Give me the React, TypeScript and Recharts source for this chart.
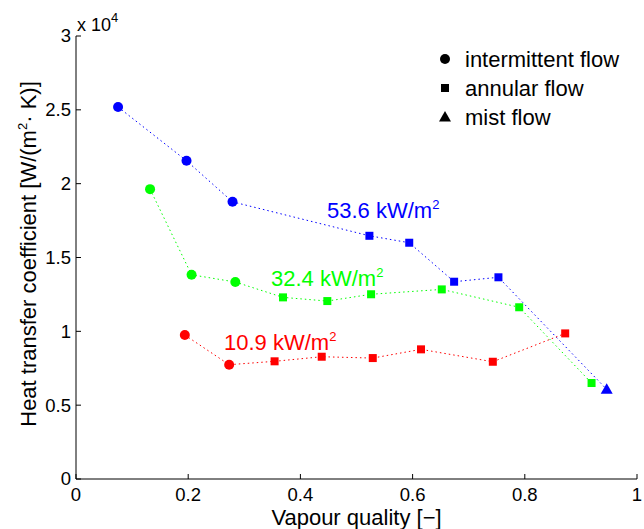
import React from 'react';
import { LineChart, Line, XAxis, YAxis, Customized } from 'recharts';

// vapour quality [-] and heat transfer coefficient [W/(m2 K)] per heat flux
const q536 = [0.075, 0.197, 0.279, 0.523, 0.594, 0.674, 0.753, 0.946];
const h536 = [25190, 21550, 18770, 16470, 16000, 13360, 13660, 6070];
const flow536 = ['i', 'i', 'i', 'a', 'a', 'a', 'a', 'm'];

const q324 = [0.132, 0.206, 0.284, 0.369, 0.448, 0.526, 0.652, 0.79, 0.919];
const h324 = [19630, 13830, 13340, 12300, 12050, 12510, 12840, 11630, 6500];
const flow324 = ['i', 'i', 'i', 'a', 'a', 'a', 'a', 'a', 'a'];

const q109 = [0.194, 0.273, 0.354, 0.438, 0.529, 0.615, 0.743, 0.872];
const h109 = [9750, 7740, 7970, 8280, 8190, 8780, 7940, 9860];
const flow109 = ['i', 'i', 'a', 'a', 'a', 'a', 'a', 'a'];

const xTicks = [0, 0.2, 0.4, 0.6, 0.8, 1];
const yTicks = [0, 5000, 10000, 15000, 20000, 25000, 30000];

const flowNames = [
  { key: 'i', label: 'intermittent flow' },
  { key: 'a', label: 'annular flow' },
  { key: 'm', label: 'mist flow' },
];

const FONT = '"Liberation Sans", Arial, Helvetica, sans-serif';

const toRows = (q: number[], h: number[], f: string[]) =>
  q.map((x, i) => ({ q: x, h: h[i], flow: f[i] }));

const data536 = toRows(q536, h536, flow536);
const data324 = toRows(q324, h324, flow324);
const data109 = toRows(q109, h109, flow109);

function Marker({ cx, cy, kind, fill }: any) {
  if (cx == null || cy == null) return null;
  if (kind === 'i') return <circle cx={cx} cy={cy} r={5} fill={fill} />;
  if (kind === 'a') return <rect x={cx - 4} y={cy - 4} width={8} height={8} fill={fill} />;
  return <polygon points={`${cx},${cy - 6} ${cx - 6},${cy + 4.5} ${cx + 6},${cy + 4.5}`} fill={fill} />;
}

const dotFor = (color: string) => (props: any) => (
  <Marker key={`d-${props.index}`} cx={props.cx} cy={props.cy} kind={props.payload.flow} fill={color} />
);

function BottomTick({ x, y, payload }: any) {
  return (
    <g>
      <line x1={x} x2={x} y1={y} y2={y - 5} stroke="#000" />
      <text x={x} y={y + 22} textAnchor="middle" fontSize={18.5} fontFamily={FONT} fill="#000">
        {String(payload.value)}
      </text>
    </g>
  );
}

function TopTick({ x, y }: any) {
  return <line x1={x} x2={x} y1={y} y2={y + 5} stroke="#000" />;
}

function LeftTick({ x, y, payload }: any) {
  return (
    <g>
      <line x1={x} x2={x + 5} y1={y} y2={y} stroke="#000" />
      <text x={x - 5} y={y} dy="0.35em" textAnchor="end" fontSize={18.5} fontFamily={FONT} fill="#000">
        {String(payload.value / 10000)}
      </text>
    </g>
  );
}

function RightTick({ x, y }: any) {
  return <line x1={x} x2={x - 5} y1={y} y2={y} stroke="#000" />;
}

function Annotations() {
  const flux = (x: number, y: number, val: string, color: string) => (
    <text x={x} y={y} fontSize={22} fontFamily={FONT} fill={color}>
      {val} kW/m
      <tspan fontSize={13} dy={-9}>2</tspan>
    </text>
  );
  return (
    <g>
      <text x={77} y={31} fontSize={18} fontFamily={FONT} fill="#000">
        x 10<tspan fontSize={13} dy={-9}>4</tspan>
      </text>
      <text
        transform="translate(36,254) rotate(-90)"
        textAnchor="middle"
        fontSize={22}
        fontFamily={FONT}
        fill="#000"
      >
        Heat transfer coefficient [W/(m<tspan fontSize={13} dy={-9}>2</tspan>
        <tspan dy={9}>· K)]</tspan>
      </text>
      {flux(327, 218, '53.6', '#0000ff')}
      {flux(271, 286, '32.4', '#00ff00')}
      {flux(224, 350, '10.9', '#ff0000')}
      {flowNames.map((f, i) => (
        <g key={f.key}>
          <Marker cx={445} cy={59 + i * 29} kind={f.key} fill="#000" />
          <text x={465} y={59 + i * 29} dy="0.35em" fontSize={22} fontFamily={FONT} fill="#000">
            {f.label}
          </text>
        </g>
      ))}
    </g>
  );
}

export default function App() {
  return (
    <div style={{ position: 'fixed', left: 0, top: 0, background: '#fff' }}>
      <LineChart width={644} height={529} margin={{ top: 36, right: 7, bottom: 0, left: 16 }}>
        <XAxis
          dataKey="q"
          type="number"
          domain={[0, 1]}
          ticks={xTicks}
          allowDataOverflow
          height={50}
          tickLine={false}
          tickSize={0}
          tickMargin={0}
          tick={<BottomTick />}
          axisLine={{ stroke: '#000' }}
          label={{ value: 'Vapour quality [−]', position: 'insideBottom', offset: 4, fontSize: 22, fontFamily: FONT, fill: '#000' }}
        />
        <XAxis
          xAxisId="top"
          orientation="top"
          dataKey="q"
          type="number"
          domain={[0, 1]}
          ticks={xTicks}
          allowDataOverflow
          height={0}
          tickLine={false}
          tickSize={0}
          tickMargin={0}
          tick={<TopTick />}
          axisLine={{ stroke: '#000' }}
        />
        <YAxis
          type="number"
          domain={[0, 30000]}
          ticks={yTicks}
          allowDataOverflow
          width={60}
          tickLine={false}
          tickSize={0}
          tickMargin={0}
          tick={<LeftTick />}
          axisLine={{ stroke: '#000' }}
        />
        <YAxis
          yAxisId="right"
          orientation="right"
          type="number"
          domain={[0, 30000]}
          ticks={yTicks}
          allowDataOverflow
          width={0}
          tickLine={false}
          tickSize={0}
          tickMargin={0}
          tick={<RightTick />}
          axisLine={{ stroke: '#000' }}
        />
        <Line
          data={data109}
          dataKey="h"
          xAxisId="top"
          yAxisId="right"
          stroke="none"
          dot={false}
          legendType="none"
          isAnimationActive={false}
        />
        <Line data={data536} dataKey="h" stroke="#0000ff" strokeDasharray="1.5 3" strokeWidth={1} dot={dotFor('#0000ff')} isAnimationActive={false} />
        <Line data={data324} dataKey="h" stroke="#00ff00" strokeDasharray="1.5 3" strokeWidth={1} dot={dotFor('#00ff00')} isAnimationActive={false} />
        <Line data={data109} dataKey="h" stroke="#ff0000" strokeDasharray="1.5 3" strokeWidth={1} dot={dotFor('#ff0000')} isAnimationActive={false} />
        <Customized component={<Annotations />} />
      </LineChart>
    </div>
  );
}
